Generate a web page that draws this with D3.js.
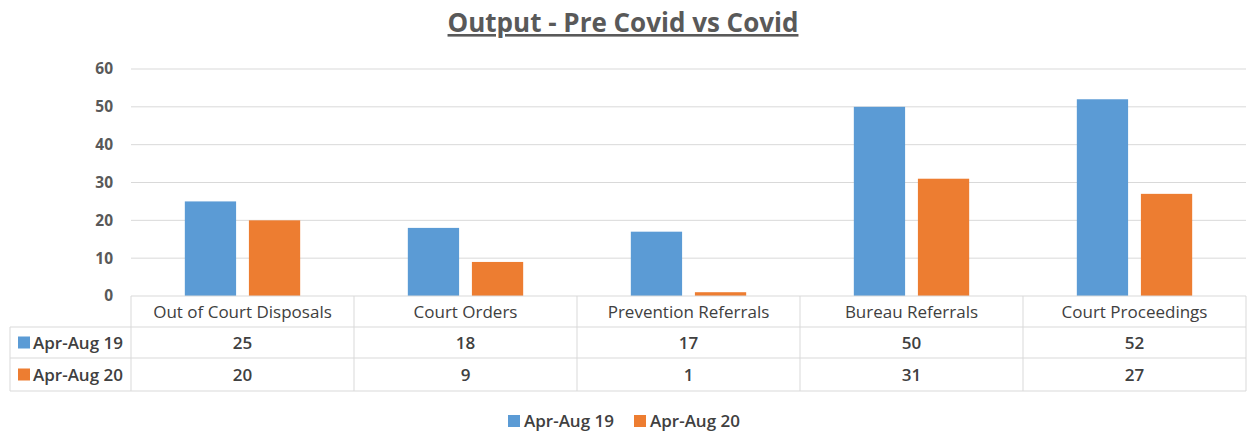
<!DOCTYPE html>
<html><head><meta charset="utf-8">
<script src="https://cdn.jsdelivr.net/npm/d3@7"></script>
<style>body{margin:0;background:#fff;} svg{display:block;}</style>
</head><body>
<svg id="c" width="1247" height="432"></svg>
<script>
const categories = ["Out of Court Disposals","Court Orders","Prevention Referrals","Bureau Referrals","Court Proceedings"];
const seriesNames = ["Apr-Aug 19","Apr-Aug 20"];
const values19 = [25,18,17,50,52];
const values20 = [20,9,1,31,27];
const yTicks = [0,10,20,30,40,50,60];
const colors = ["#5b9bd5","#ed7d31"];
const series = [values19, values20];

const svg = d3.select("#c");
const font = "'Open Sans', sans-serif";
const pLeft = 131, pRight = 1246, pTop = 69, pBottom = 296;
const tblLeft = 10;
const rowH = [31, 31, 33];

const x = d3.scaleBand().domain(categories).range([pLeft, pRight]);
const xs = d3.scaleBand().domain([0,1]).range([0, x.bandwidth()]).paddingInner(0.2).paddingOuter(0.84);
const y = d3.scaleLinear().domain([0,60]).range([pBottom, pTop]);

// title
svg.append("text").attr("x", 623).attr("y", 32).attr("text-anchor","middle")
  .attr("font-family", font).attr("font-size", 26).attr("font-weight", "bold")
  .attr("fill", "#595959").attr("text-decoration","underline").text("Output - Pre Covid vs Covid");

// gridlines
svg.append("g").selectAll("line").data(yTicks.filter(d=>d>0)).join("line")
  .attr("x1", pLeft).attr("x2", pRight).attr("y1", d=>y(d)).attr("y2", d=>y(d))
  .attr("stroke", "#d9d9d9").attr("stroke-width", 1);

// y axis labels
const yAxis = d3.axisLeft(y).tickValues(yTicks).tickSize(0).tickPadding(18);
const ga = svg.append("g").attr("transform", `translate(${pLeft},0)`).call(yAxis);
ga.select(".domain").remove();
ga.selectAll("text").attr("font-family", font).attr("font-size", 15.5).attr("font-weight","bold").attr("fill","#595959");

// bars
series.forEach((vals, si) => {
  svg.append("g").selectAll("rect").data(vals).join("rect")
    .attr("x", (d,i)=> x(categories[i]) + xs(si))
    .attr("width", xs.bandwidth())
    .attr("y", d=>y(d)).attr("height", d=>y(0)-y(d))
    .attr("fill", colors[si]);
});

// table
const tbl = svg.append("g");
const yRows = [pBottom, pBottom+rowH[0], pBottom+rowH[0]+rowH[1], pBottom+rowH[0]+rowH[1]+rowH[2]];
const lc = "#d9d9d9";
tbl.append("line").attr("x1", pLeft).attr("x2", pRight).attr("y1", yRows[0]).attr("y2", yRows[0]).attr("stroke", lc);
[1,2,3].forEach(r => tbl.append("line").attr("x1", tblLeft).attr("x2", pRight).attr("y1", yRows[r]).attr("y2", yRows[r]).attr("stroke", lc));
tbl.append("line").attr("x1", tblLeft).attr("x2", tblLeft).attr("y1", yRows[1]).attr("y2", yRows[3]).attr("stroke", lc);
[...categories.map(c=>x(c)), pRight].forEach(xv => tbl.append("line").attr("x1", xv).attr("x2", xv).attr("y1", yRows[0]).attr("y2", yRows[3]).attr("stroke", lc));

tbl.selectAll("text.cat").data(categories).join("text").attr("class","cat")
  .attr("x", d=>x(d)+x.bandwidth()/2).attr("y", (yRows[0]+yRows[1])/2 + 6)
  .attr("text-anchor","middle").attr("font-family", font).attr("font-size", 17)
  .attr("fill","#404040").text(d=>d);

series.forEach((vals, si) => {
  const cy = (yRows[si+1]+yRows[si+2])/2;
  tbl.append("rect").attr("x", 18).attr("y", cy-6).attr("width", 12).attr("height", 12).attr("fill", colors[si]);
  tbl.append("text").attr("x", 33).attr("y", cy+6).attr("font-family", font).attr("font-size", 17)
    .attr("font-weight","600").attr("fill","#404040").text(seriesNames[si]);
  tbl.selectAll("text.v"+si).data(vals).join("text").attr("class","v"+si)
    .attr("x", (d,i)=>x(categories[i])+x.bandwidth()/2).attr("y", cy+6)
    .attr("text-anchor","middle").attr("font-family", font).attr("font-size", 17)
    .attr("font-weight","600").attr("fill","#404040").text(d=>d);
});

// legend
const leg = svg.append("g");
const legX = [508, 634];
seriesNames.forEach((n, i) => {
  leg.append("rect").attr("x", legX[i]).attr("y", 415).attr("width", 12).attr("height", 12).attr("fill", colors[i]);
  leg.append("text").attr("x", legX[i]+16).attr("y", 427).attr("font-family", font).attr("font-size", 17)
    .attr("font-weight","600").attr("fill","#404040").text(n);
});
</script>
</body></html>
